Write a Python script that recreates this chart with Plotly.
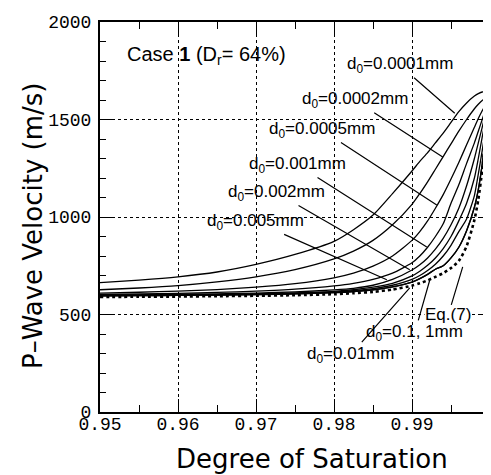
import plotly.graph_objects as go

# Degree of saturation (x) sample points
saturation = [0.95, 0.955, 0.96, 0.965, 0.97, 0.975, 0.98, 0.9825, 0.985, 0.9875,
              0.99, 0.991, 0.992, 0.993, 0.994, 0.995, 0.996, 0.997, 0.998, 0.9985,
              0.999, 0.9995, 1.0]

# P-wave velocity (m/s) for each bubble diameter d0
v_d0_0001 = [663, 676, 693, 718, 757, 808, 875, 935, 1010, 1120,
             1236, 1285, 1330, 1380, 1430, 1485, 1540, 1585, 1620, 1633,
             1641, 1638, 1600]
v_d0_0002 = [627, 636, 648, 667, 693, 730, 785, 825, 880, 960,
             1065, 1120, 1180, 1245, 1310, 1375, 1440, 1500, 1555, 1578,
             1598, 1610, 1600]
v_d0_0005 = [610, 614, 620, 628, 640, 658, 688, 712, 748, 800,
             880, 925, 980, 1045, 1115, 1195, 1280, 1370, 1460, 1505,
             1545, 1580, 1600]
v_d0_001 = [603, 605, 608, 613, 620, 630, 647, 660, 680, 712,
            765, 800, 845, 900, 965, 1070, 1165, 1275, 1380, 1440,
            1500, 1560, 1600]
v_d0_002 = [600, 601, 603, 606, 610, 616, 626, 634, 650, 680,
            728, 755, 790, 835, 890, 960, 1045, 1160, 1300, 1380,
            1460, 1540, 1600]
v_d0_005 = [598, 599, 601, 603, 606, 611, 619, 627, 640, 660,
            698, 722, 752, 790, 838, 900, 980, 1070, 1200, 1300,
            1410, 1510, 1600]
v_d0_01 = [597, 598, 600, 602, 604, 608, 615, 622, 633, 650,
           680, 700, 726, 758, 800, 855, 925, 990, 1110, 1220,
           1340, 1470, 1600]
v_d0_1 = [596, 597, 598, 600, 602, 606, 612, 618, 627, 642,
          666, 684, 706, 732, 750, 790, 845, 930, 1050, 1140,
          1270, 1440, 1600]
v_d0_1mm = [596, 597, 598, 600, 602, 606, 612, 618, 627, 642,
            666, 684, 706, 732, 750, 790, 845, 930, 1050, 1140,
            1270, 1440, 1600]
v_eq7 = [590, 591, 592, 594, 596, 599, 604, 609, 616, 628,
         648, 660, 675, 693, 712, 738, 775, 850, 985, 1090,
         1240, 1440, 1600]

x_tickvals = [0.95, 0.96, 0.97, 0.98, 0.99, 1.0]
x_ticktext = ["0.95", "0.96", "0.97", "0.98", "0.99", "1"]
y_tickvals = [0, 500, 1000, 1500, 2000]
y_ticktext = ["0", "500", "1000", "1500", "2000"]

solid_curves = [v_d0_0001, v_d0_0002, v_d0_0005, v_d0_001, v_d0_002,
                v_d0_005, v_d0_01, v_d0_1, v_d0_1mm]

fig = go.Figure()
for vals in solid_curves:
    fig.add_trace(go.Scatter(
        x=saturation, y=vals, mode="lines", showlegend=False,
        line=dict(color="black", width=1.3, shape="spline", smoothing=0.6),
        hoverinfo="skip"))
fig.add_trace(go.Scatter(
    x=saturation, y=v_eq7, mode="lines", showlegend=False,
    line=dict(color="black", width=2.6, dash="dot", shape="spline", smoothing=0.6),
    hoverinfo="skip"))

label_font = dict(family="Liberation Sans, Arial, sans-serif", size=17, color="black")

# (label, text x, text y, arrow tip x, arrow tip y)
labels = [
    ("d<sub>0</sub>=0.0001mm", 0.98843, 1778, 0.99548, 1532),
    ("d<sub>0</sub>=0.0002mm", 0.98267, 1599, 0.99394, 1308),
    ("d<sub>0</sub>=0.0005mm", 0.97844, 1446, 0.99317, 1061),
    ("d<sub>0</sub>=0.001mm", 0.97537, 1267, 0.99189, 846),
    ("d<sub>0</sub>=0.002mm", 0.97268, 1123, 0.98971, 729),
    ("d<sub>0</sub>=0.005mm", 0.96998, 975, 0.98677, 678),
    ("d<sub>0</sub>=0.01mm", 0.98215, 294, 0.98971, 637),
    ("d<sub>0</sub>=0.1, 1mm", 0.99035, 406, 0.99228, 677),
]
for text, tx, ty, hx, hy in labels:
    fig.add_annotation(x=hx, y=hy, ax=tx, ay=ty, xref="x", yref="y", axref="x", ayref="y",
                       text=text, showarrow=True, arrowhead=0, arrowwidth=1.2,
                       arrowcolor="black", standoff=0, startstandoff=0, font=label_font)
fig.add_annotation(x=0.9965, y=744, ax=0.99465, ay=498, xref="x", yref="y", axref="x", ayref="y",
                   text="Eq.(7)", showarrow=True, arrowhead=0, arrowwidth=1.2,
                   arrowcolor="black", standoff=0, startstandoff=0, font=label_font,
                   bgcolor="white", borderpad=0)
fig.add_annotation(x=0.96371, y=1830, xref="x", yref="y", showarrow=False,
                   text="Case <b>1</b> (D<sub>r</sub>= 64%)",
                   font=dict(family="Liberation Sans, Arial, sans-serif", size=20, color="black"))

title_font = dict(family="DejaVu Sans, sans-serif", size=26, color="black")
fig.add_annotation(x=0.5436, y=-0.1205, xref="paper", yref="paper", showarrow=False,
                   text="Degree of Saturation", font=title_font, xanchor="center", yanchor="middle")
fig.add_annotation(x=-0.1718, y=0.477, xref="paper", yref="paper", showarrow=False,
                   text="P\u2013Wave Velocity (m/s)", font=title_font, textangle=-90,
                   xanchor="center", yanchor="middle")

tick_font = dict(family="Liberation Mono, monospace", size=18, color="black")
fig.update_xaxes(range=[0.95, 1.0], tickmode="array", tickvals=x_tickvals, ticktext=x_ticktext,
                 ticks="inside", ticklen=13, tickwidth=1.3, tickcolor="black",
                 minor=dict(dtick=0.005, ticks="inside", ticklen=7, tickwidth=1.3, tickcolor="black", showgrid=False),
                 showline=True, linecolor="black", linewidth=2, mirror="ticks",
                 showgrid=True, gridcolor="black", gridwidth=1, griddash="3px,3px",
                 tickfont=tick_font, zeroline=False, automargin=False, ticklabelstandoff=-6)
fig.update_yaxes(range=[0, 2000], tickmode="array", tickvals=y_tickvals, ticktext=y_ticktext,
                 ticks="inside", ticklen=12, tickwidth=1.3, tickcolor="black",
                 minor=dict(dtick=100, ticks="inside", ticklen=6, tickwidth=1.3, tickcolor="black", showgrid=False),
                 showline=True, linecolor="black", linewidth=2, mirror="ticks",
                 showgrid=True, gridcolor="black", gridwidth=1, griddash="3px,3px",
                 tickfont=tick_font, zeroline=False, automargin=False, ticklabelstandoff=3)

# page body has an 8px default margin: figure is offset by (8, 8)
fig.update_layout(width=483, height=467, margin=dict(l=92, r=1, t=14, b=63),
                  paper_bgcolor="white", plot_bgcolor="white")

fig.write_html("out.html")
